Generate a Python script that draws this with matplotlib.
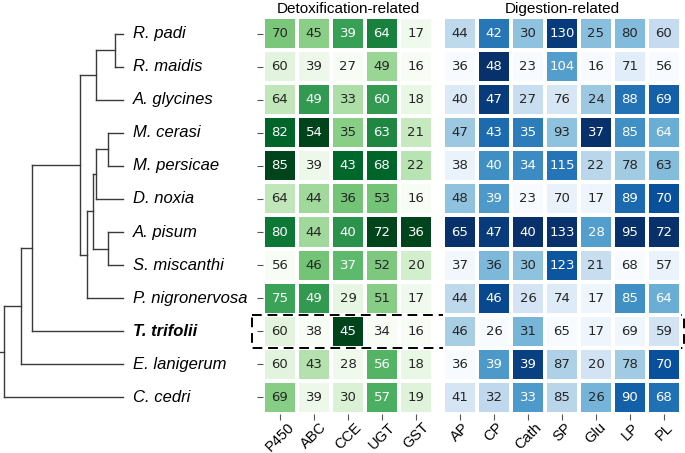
import matplotlib.pyplot as plt
import numpy as np
import seaborn as sns
from matplotlib.patches import Rectangle

species = ['R. padi', 'R. maidis', 'A. glycines', 'M. cerasi', 'M. persicae',
           'D. noxia', 'A. pisum', 'S. miscanthi', 'P. nigronervosa',
           'T. trifolii', 'E. lanigerum', 'C. cedri']
detox_genes = ['P450', 'ABC', 'CCE', 'UGT', 'GST']
digest_genes = ['AP', 'CP', 'Cath', 'SP', 'Glu', 'LP', 'PL']

detox = np.array([
    [70, 45, 39, 64, 17],
    [60, 39, 27, 49, 16],
    [64, 49, 33, 60, 18],
    [82, 54, 35, 63, 21],
    [85, 39, 43, 68, 22],
    [64, 44, 36, 53, 16],
    [80, 44, 40, 72, 36],
    [56, 46, 37, 52, 20],
    [75, 49, 29, 51, 17],
    [60, 38, 45, 34, 16],
    [60, 43, 28, 56, 18],
    [69, 39, 30, 57, 19],
])
digest = np.array([
    [44, 42, 30, 130, 25, 80, 60],
    [36, 48, 23, 104, 16, 71, 56],
    [40, 47, 27, 76, 24, 88, 69],
    [47, 43, 35, 93, 37, 85, 64],
    [38, 40, 34, 115, 22, 78, 63],
    [48, 39, 23, 70, 17, 89, 70],
    [65, 47, 40, 133, 28, 95, 72],
    [37, 36, 30, 123, 21, 68, 57],
    [44, 46, 26, 74, 17, 85, 64],
    [46, 26, 31, 65, 17, 69, 59],
    [36, 39, 39, 87, 20, 78, 70],
    [41, 32, 33, 85, 26, 90, 68],
])

# tree merges (scipy style): left id, right id, height; new node ids start at 12
merges = [
    (0, 1, 8), (12, 2, 27), (3, 4, 15), (14, 5, 27), (6, 7, 15),
    (15, 16, 30), (17, 8, 36), (13, 18, 43), (19, 9, 91),
    (20, 10, 102), (21, 11, 119),
]
root_height = 123
highlight = 'T. trifolii'

plt.rcParams['font.family'] = ['Liberation Sans', 'DejaVu Sans']

W, H = 685, 453
top, bot = 17, 414
fig = plt.figure(figsize=(W / 100, H / 100), dpi=100)


def box(x0, x1):
    return [x0 / W, (H - bot) / H, (x1 - x0) / W, (bot - top) / H]


ax_tree = fig.add_axes(box(0, 263))
ax_det = fig.add_axes(box(263, 433))
ax_dig = fig.add_axes(box(443, 681))

# dendrogram
n = len(species)
ypos = {i: i + 0.5 for i in range(n)}
xpos = {i: 0 for i in range(n)}
lc = '#3a3a3a'
for k, (a, b, h) in enumerate(merges):
    node = n + k
    for c in (a, b):
        ax_tree.plot([xpos[c], h], [ypos[c], ypos[c]], color=lc, lw=1)
    ax_tree.plot([h, h], [ypos[a], ypos[b]], color=lc, lw=1)
    ypos[node] = (ypos[a] + ypos[b]) / 2
    xpos[node] = h
last = n + len(merges) - 1
ax_tree.plot([xpos[last], root_height], [ypos[last]] * 2, color=lc, lw=1)
for i, sp in enumerate(species):
    ax_tree.text(-10, ypos[i], sp, ha='left', va='center', fontsize=12,
                 style='italic', weight='bold' if sp == highlight else 'normal')
ax_tree.set_xlim(root_height, root_height - 263)
ax_tree.set_ylim(n, 0)
ax_tree.axis('off')


def colnorm(a):
    a = a.astype(float)
    return (a - a.min(0)) / (a.max(0) - a.min(0))


for ax, vals, genes, cmap, title in [(ax_det, detox, detox_genes, 'Greens', 'Detoxification-related'),
                                     (ax_dig, digest, digest_genes, 'Blues', 'Digestion-related')]:
    sns.heatmap(colnorm(vals), annot=vals, fmt='d', cmap=cmap, cbar=False,
                linewidths=1.5, linecolor='white', ax=ax,
                xticklabels=genes, yticklabels=False,
                annot_kws={'fontsize': 9.5, 'family': 'DejaVu Sans'})
    ax.set_xticklabels(genes, rotation=45, fontsize=10.5)
    ax.set_title(title, fontsize=11, pad=3)
    ax.tick_params(axis='x', length=4, color='#555555', pad=0.5)

ax_det.set_yticks(np.arange(n) + 0.5)
ax_det.set_yticklabels([])
ax_det.tick_params(axis='y', length=4, color='#555555')

row = species.index(highlight)
ax_det.add_patch(Rectangle((-0.32, row), 12.7, 1, fill=False, ec='black',
                           lw=1.4, ls=(0, (5, 3)), clip_on=False))

fig.savefig('out.png', dpi=100)
